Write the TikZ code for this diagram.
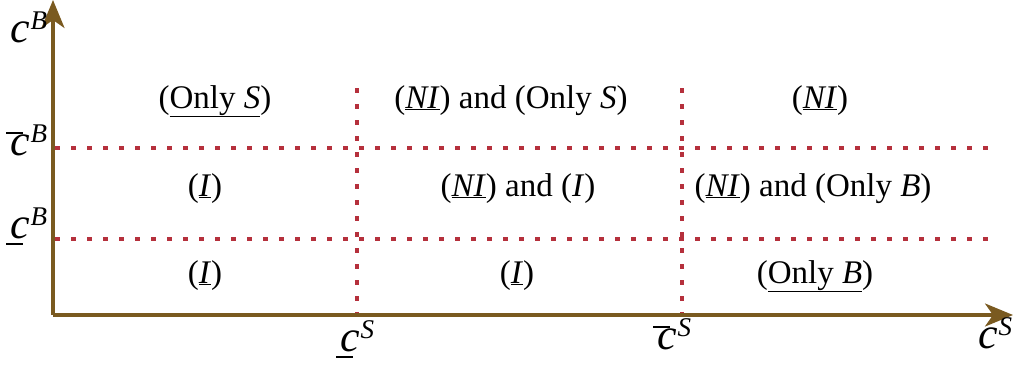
\documentclass[tikz,border=0pt]{standalone}
\usepackage{fontspec}
\setmainfont{Liberation Serif}
\usetikzlibrary{arrows.meta}
\definecolor{axisbrown}{HTML}{7A5A20}
\definecolor{dotred}{HTML}{B5303C}
\tikzset{
  axis/.style={draw=axisbrown,line width=3.2pt,-{Stealth[length=28pt,width=23pt,inset=8pt]}},
  grid/.style={draw=dotred,line width=3.5pt,dash pattern=on 5pt off 11pt},
  cell/.style={anchor=base,inner sep=0pt,font=\fontsize{33}{36}\selectfont},
  lab/.style={anchor=base west,inner sep=0pt,font=\fontsize{44}{46}\selectfont}
}
\newcommand{\axsup}[1]{\hspace*{1pt}\raisebox{13pt}{\fontsize{27}{27}\selectfont\textit{#1}}}
\newcommand{\cbar}{\hspace*{-4pt}\rlap{\raisebox{21pt}{\rule{17pt}{2.2pt}}}\hspace*{4pt}\textit{c}}
\newcommand{\cund}{\hspace*{-4pt}\rlap{\raisebox{-7pt}{\rule{17pt}{2.2pt}}}\hspace*{4pt}\textit{c}}
\begin{document}
\begin{tikzpicture}[x=1pt,y=1pt]
\useasboundingbox (0,0) rectangle (1015,368);
\coordinate (O) at (53,53);
\coordinate (Ytop) at (53,368);
\coordinate (Xend) at (1013,53);
\coordinate (H1a) at (55,220); \coordinate (H1b) at (990,220);
\coordinate (H2a) at (55,129); \coordinate (H2b) at (990,129);
\coordinate (V1a) at (357,280); \coordinate (V1b) at (357,53);
\coordinate (V2a) at (682,280); \coordinate (V2b) at (682,53);
\draw[grid] (H1a) -- (H1b);
\draw[grid] (H2a) -- (H2b);
\draw[grid] (V1a) -- (V1b);
\draw[grid] (V2a) -- (V2b);
\draw[axis] (O) -- (Ytop);
\draw[axis] (O) -- (Xend);
% axis labels
\node[lab] (cB) at (10,326) {\textit{c}\axsup{B}};
\node[lab] (cBbar) at (10,213) {\cbar\axsup{B}};
\node[lab] (cBund) at (10,130) {\cund\axsup{B}};
\node[lab] (cSund) at (340,17) {\cund\axsup{S}};
\node[lab] (cSbar) at (657,19) {\cbar\axsup{S}};
\node[lab] (cS) at (978,20) {\textit{c}\axsup{S}};
% cells
\node[cell] (r1a) at (215,260) {(\underline{Only \textit{S}})};
\node[cell] (r1b) at (511,260) {(\underline{\textit{NI}}) and (Only \textit{S})};
\node[cell] (r1c) at (820,260) {(\underline{\textit{NI}})};
\node[cell] (r2a) at (205,172) {(\underline{\textit{I}})};
\node[cell] (r2b) at (518,172) {(\underline{\textit{NI}}) and (\textit{I})};
\node[cell] (r2c) at (813,172) {(\underline{\textit{NI}}) and (Only \textit{B})};
\node[cell] (r3a) at (205,85) {(\underline{\textit{I}})};
\node[cell] (r3b) at (517,85) {(\underline{\textit{I}})};
\node[cell] (r3c) at (815,85) {(\underline{Only \textit{B}})};
\end{tikzpicture}
\end{document}
